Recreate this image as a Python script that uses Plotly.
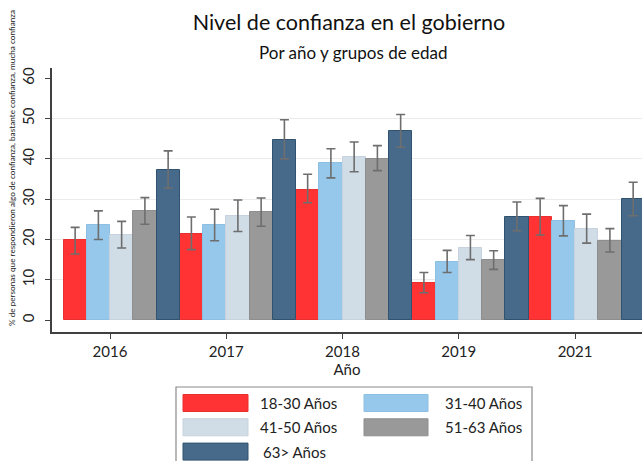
import plotly.graph_objects as go

# ---------------- data ----------------
years = ["2016", "2017", "2018", "2019", "2021"]
groups = ["18-30 Años", "31-40 Años", "41-50 Años", "51-63 Años", "63> Años"]

val_18_30 = [19.8, 21.4, 32.4, 9.3, 25.7]
val_31_40 = [23.5, 23.5, 38.9, 14.5, 24.6]
val_41_50 = [21.0, 25.9, 40.4, 18.0, 22.7]
val_51_63 = [27.0, 26.7, 40.0, 14.8, 19.7]
val_63 = [37.3, 44.8, 46.9, 25.7, 30.0]

hi_18_30 = [23.0, 25.6, 36.2, 11.8, 30.2]
hi_31_40 = [27.1, 27.5, 42.5, 17.3, 28.4]
hi_41_50 = [24.5, 29.8, 44.2, 21.0, 26.3]
hi_51_63 = [30.4, 30.3, 43.3, 17.2, 22.7]
hi_63 = [42.0, 49.7, 51.0, 29.3, 34.2]

lo_18_30 = [16.4, 17.5, 29.1, 6.8, 21.1]
lo_31_40 = [20.0, 19.7, 35.3, 11.8, 20.9]
lo_41_50 = [17.9, 22.0, 36.8, 15.0, 19.1]
lo_51_63 = [23.8, 23.3, 37.1, 12.6, 16.9]
lo_63 = [32.7, 40.0, 42.9, 22.2, 25.9]

y_ticks = [0, 10, 20, 30, 40, 50, 60]
grid_vals = [10, 20, 30, 40, 50]

values = [val_18_30, val_31_40, val_41_50, val_51_63, val_63]
highs = [hi_18_30, hi_31_40, hi_41_50, hi_51_63, hi_63]
lows = [lo_18_30, lo_31_40, lo_41_50, lo_51_63, lo_63]

# ---------------- styles ----------------
fills = ["#FF3333", "#96C8EB", "#D0DCE6", "#999999", "#476A8B"]
outlines = ["#E83030", "#8CBFE2", "#C6D3DE", "#8E8E8E", "#31526F"]
FONT = "Lato"

W, H = 642, 461
L, R, T, B = 52, 0, 68, 129
pw, ph = W - L - R, H - T - B


def px_x(p):
    return (p - L) / pw


def px_y(p):
    return (H - B - p) / ph


x_idx = list(range(len(years)))
fig = go.Figure()
for name, v, hi, lo, fc, lc in zip(groups, values, highs, lows, fills, outlines):
    fig.add_trace(go.Bar(
        x=x_idx, y=v, name=name,
        marker=dict(color=fc, line=dict(color=lc, width=1)),
        error_y=dict(type="data", symmetric=False,
                     array=[h - a for h, a in zip(hi, v)],
                     arrayminus=[a - l for a, l in zip(v, lo)],
                     color="#6E6E6E", thickness=1.6, width=4.5),
        showlegend=False,
    ))

half_bar = 0.5 / len(groups)
tickpos = [i - half_bar for i in x_idx]

# custom legend (large swatches like the original)
shapes = [dict(type="rect", xref="paper", yref="paper",
               x0=px_x(176), x1=px_x(532), y0=px_y(475), y1=px_y(387),
               line=dict(color="#8A8A8A", width=1.2), fillcolor="white", layer="below")]
annotations = []
sw_x = [(183, 248), (364, 428)]
tx_x = [258, 443]
for i, (name, fc, lc) in enumerate(zip(groups, fills, outlines)):
    row, col = divmod(i, 2)
    cy = 403 + row * 24.3
    shapes.append(dict(type="rect", xref="paper", yref="paper",
                       x0=px_x(sw_x[col][0]), x1=px_x(sw_x[col][1]),
                       y0=px_y(cy + 8.5), y1=px_y(cy - 8.5),
                       fillcolor=fc, line=dict(color=lc, width=1)))
    annotations.append(dict(xref="paper", yref="paper", x=px_x(tx_x[col] + (3 if i == 4 else 0)),
                            y=px_y(cy), text=name, showarrow=False,
                            xanchor="left", yanchor="middle",
                            font=dict(family=FONT, size=15, color="#222")))

# y-axis title
annotations.append(dict(xref="paper", yref="paper", x=px_x(12), y=px_y(168),
                        text="% de personas que respondieron algo de confianza, bastante confianza, mucha confianza",
                        textangle=-90, showarrow=False, xanchor="center", yanchor="middle",
                        font=dict(family=FONT, size=8.2, color="#222")))
# subtitle
annotations.append(dict(xref="paper", yref="paper", x=px_x(353), y=px_y(52),
                        text="Por año y grupos de edad", showarrow=False,
                        xanchor="center", yanchor="middle",
                        font=dict(family=FONT, size=17, color="#111")))

fig.update_layout(
    width=W, height=H,
    margin=dict(l=L, r=R, t=T, b=B, autoexpand=False),
    paper_bgcolor="white", plot_bgcolor="white",
    barmode="group", bargap=0, bargroupgap=0,
    font=dict(family=FONT, size=15, color="#222"),
    title=dict(text="Nivel de confianza en el gobierno", x=349 / W, xanchor="center",
               y=1 - 22 / H, yanchor="middle", font=dict(family=FONT, size=21.5, color="#111")),
    xaxis=dict(range=[-0.599, 4.476], tickmode="array", tickvals=tickpos, ticktext=years,
               automargin=False,
               showline=True, linecolor="#404040", linewidth=1.5, ticks="outside", ticklen=5,
               tickcolor="#404040", tickwidth=1.3, showgrid=False, zeroline=False,
               tickfont=dict(family=FONT, size=15, color="#222"),
               title=dict(text="Año", standoff=2, font=dict(family=FONT, size=15, color="#222"))),
    yaxis=dict(range=[-2.95, 62.55], tickmode="array", tickvals=y_ticks,
               ticktext=[str(t) for t in y_ticks], tickangle=-90,
               automargin=False,
               showline=True, linecolor="#404040", linewidth=1.5, ticks="outside", ticklen=5,
               tickcolor="#404040", tickwidth=1.3, showgrid=False, zeroline=False,
               ticklabelstandoff=5,
               tickfont=dict(family=FONT, size=15, color="#222"),
               minor=dict(tickmode="array", tickvals=grid_vals, showgrid=True,
                          gridcolor="#EBEBEB", gridwidth=1, ticks="")),
    shapes=shapes,
    annotations=annotations,
)

fig.write_html("out.html", config={"displayModeBar": False},
               post_script="document.body.style.margin='0px';document.body.style.padding='0px';")
